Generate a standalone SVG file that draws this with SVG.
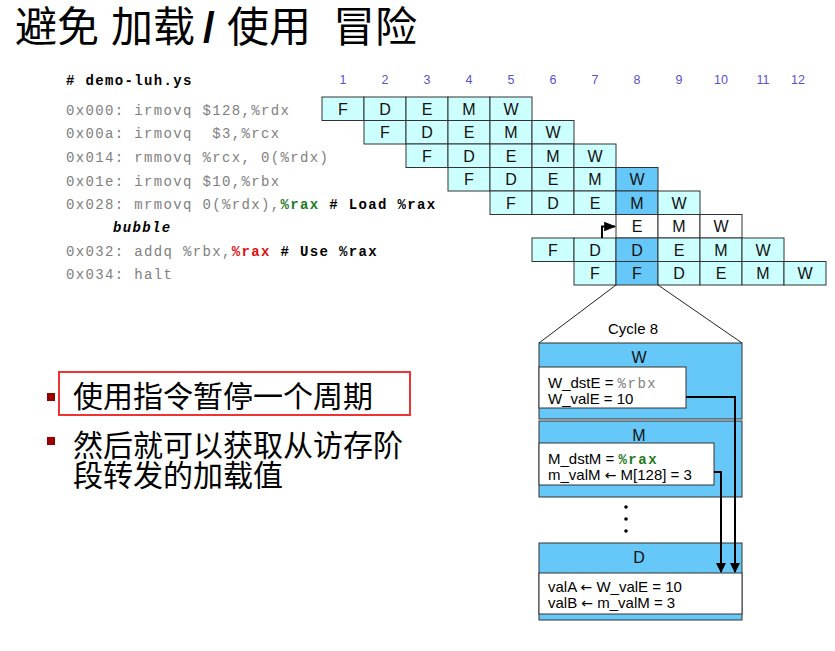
<svg xmlns="http://www.w3.org/2000/svg" width="835" height="651" viewBox="0 0 835 651">
  <style>
    .title { font-family: "Noto Sans CJK SC", "Noto Sans", sans-serif; font-size: 42px; font-weight: normal; fill: #000; }
    .slash { font-family: "Liberation Sans", Arial, sans-serif; font-weight: bold; }
    .bullet { font-family: "Noto Sans CJK SC", "Noto Sans", sans-serif; font-size: 30px; fill: #000; }
    .code { font-family: "Liberation Mono", "DejaVu Sans Mono", monospace; font-size: 14px; letter-spacing: 1.35px; fill: #808080; white-space: pre; }
    .codeb { font-weight: bold; fill: #000; }
    .num { font-family: "Liberation Sans", Arial, sans-serif; font-size: 12.5px; fill: #5a50d0; text-anchor: middle; }
    .cell { fill: #ccffff; stroke: #333; stroke-width: 1; }
    .hot { fill: #66c8f8; }
    .blank { fill: #fff; }
    .lt { font-family: "Liberation Sans", Arial, sans-serif; font-size: 16px; fill: #111; text-anchor: middle; }
    .stage { fill: #66c8f8; stroke: #333; stroke-width: 1; }
    .inner { fill: #fff; stroke: #333; stroke-width: 1; }
    .bt { font-family: "Liberation Sans", Arial, sans-serif; font-size: 15px; fill: #000; }
    .mono { font-family: "Liberation Mono", "DejaVu Sans Mono", monospace; font-size: 14px; letter-spacing: 1.5px; }
    .arr { font-family: "DejaVu Sans", sans-serif; font-size: 14px; }
    .wire { fill: none; stroke: #000; stroke-width: 2; }
    .thin { fill: none; stroke: #222; stroke-width: 1; }
  </style>
  <defs>
    <marker id="arrow" viewBox="0 0 10 10" refX="9" refY="5" markerWidth="5" markerHeight="5" orient="auto">
      <path d="M0,0 L10,5 L0,10 z" fill="#000"/>
    </marker>
    <marker id="arrowSmall" viewBox="0 0 10 10" refX="9" refY="5" markerWidth="6" markerHeight="6" orient="auto">
      <path d="M0,1 L10,5 L0,9 z" fill="#000"/>
    </marker>
  </defs>

  <rect width="835" height="651" fill="#fff"/>

  <!-- heading -->
  <text class="title" y="42"><tspan x="15">避免</tspan><tspan x="111">加载</tspan><tspan class="slash" x="203">/</tspan><tspan x="227">使用</tspan><tspan x="333">冒险</tspan></text>

  <!-- program listing -->
  <g id="listing">
    <text class="code codeb" x="66" y="85"># demo-luh.ys</text>
    <text class="code" x="66" y="115">0x000: irmovq $128,%rdx</text>
    <text class="code" x="66" y="138">0x00a: irmovq  $3,%rcx</text>
    <text class="code" x="66" y="162">0x014: rmmovq %rcx, 0(%rdx)</text>
    <text class="code" x="66" y="186">0x01e: irmovq $10,%rbx</text>
    <text class="code" x="66" y="209">0x028: mrmovq 0(%rdx),<tspan font-weight="bold" fill="#1e7a1e">%rax</tspan><tspan class="codeb"> # Load %rax</tspan></text>
    <text class="code codeb" x="113" y="232" font-style="italic">bubble</text>
    <text class="code" x="66" y="256">0x032: addq %rbx,<tspan font-weight="bold" fill="#e01010">%rax</tspan><tspan class="codeb"> # Use %rax</tspan></text>
    <text class="code" x="66" y="279">0x034: halt</text>
  </g>

  <!-- cycle numbers -->
  <g id="cycles">
    <text class="num" x="343" y="84">1</text>
    <text class="num" x="385" y="84">2</text>
    <text class="num" x="427" y="84">3</text>
    <text class="num" x="469" y="84">4</text>
    <text class="num" x="511" y="84">5</text>
    <text class="num" x="553" y="84">6</text>
    <text class="num" x="595" y="84">7</text>
    <text class="num" x="637" y="84">8</text>
    <text class="num" x="679" y="84">9</text>
    <text class="num" x="721" y="84">10</text>
    <text class="num" x="763" y="84">11</text>
    <text class="num" x="798" y="84">12</text>
  </g>

  <!-- pipeline grid -->
  <g id="row1">
    <rect class="cell" x="322" y="97" width="42" height="23.5"/>
    <rect class="cell" x="364" y="97" width="42" height="23.5"/>
    <rect class="cell" x="406" y="97" width="42" height="23.5"/>
    <rect class="cell" x="448" y="97" width="42" height="23.5"/>
    <rect class="cell" x="490" y="97" width="42" height="23.5"/>
    <text class="lt" x="343" y="114.5">F</text><text class="lt" x="385" y="114.5">D</text><text class="lt" x="427" y="114.5">E</text><text class="lt" x="469" y="114.5">M</text><text class="lt" x="511" y="114.5">W</text>
  </g>
  <g id="row2">
    <rect class="cell" x="364" y="120.5" width="42" height="23.5"/>
    <rect class="cell" x="406" y="120.5" width="42" height="23.5"/>
    <rect class="cell" x="448" y="120.5" width="42" height="23.5"/>
    <rect class="cell" x="490" y="120.5" width="42" height="23.5"/>
    <rect class="cell" x="532" y="120.5" width="42" height="23.5"/>
    <text class="lt" x="385" y="138">F</text><text class="lt" x="427" y="138">D</text><text class="lt" x="469" y="138">E</text><text class="lt" x="511" y="138">M</text><text class="lt" x="553" y="138">W</text>
  </g>
  <g id="row3">
    <rect class="cell" x="406" y="144" width="42" height="23.5"/>
    <rect class="cell" x="448" y="144" width="42" height="23.5"/>
    <rect class="cell" x="490" y="144" width="42" height="23.5"/>
    <rect class="cell" x="532" y="144" width="42" height="23.5"/>
    <rect class="cell" x="574" y="144" width="42" height="23.5"/>
    <text class="lt" x="427" y="161.5">F</text><text class="lt" x="469" y="161.5">D</text><text class="lt" x="511" y="161.5">E</text><text class="lt" x="553" y="161.5">M</text><text class="lt" x="595" y="161.5">W</text>
  </g>
  <g id="row4">
    <rect class="cell" x="448" y="167.5" width="42" height="23.5"/>
    <rect class="cell" x="490" y="167.5" width="42" height="23.5"/>
    <rect class="cell" x="532" y="167.5" width="42" height="23.5"/>
    <rect class="cell" x="574" y="167.5" width="42" height="23.5"/>
    <rect class="cell hot" x="616" y="167.5" width="42" height="23.5"/>
    <text class="lt" x="469" y="185">F</text><text class="lt" x="511" y="185">D</text><text class="lt" x="553" y="185">E</text><text class="lt" x="595" y="185">M</text><text class="lt" x="637" y="185">W</text>
  </g>
  <g id="row5">
    <rect class="cell" x="490" y="191" width="42" height="23.5"/>
    <rect class="cell" x="532" y="191" width="42" height="23.5"/>
    <rect class="cell" x="574" y="191" width="42" height="23.5"/>
    <rect class="cell hot" x="616" y="191" width="42" height="23.5"/>
    <rect class="cell" x="658" y="191" width="42" height="23.5"/>
    <text class="lt" x="511" y="208.5">F</text><text class="lt" x="553" y="208.5">D</text><text class="lt" x="595" y="208.5">E</text><text class="lt" x="637" y="208.5">M</text><text class="lt" x="679" y="208.5">W</text>
  </g>
  <g id="bubble-row">
    <rect class="cell blank" x="616" y="214.5" width="42" height="23.5"/>
    <rect class="cell blank" x="658" y="214.5" width="42" height="23.5"/>
    <rect class="cell blank" x="700" y="214.5" width="42" height="23.5"/>
    <text class="lt" x="637" y="232">E</text><text class="lt" x="679" y="232">M</text><text class="lt" x="721" y="232">W</text>
  </g>
  <g id="row6">
    <rect class="cell" x="532" y="238" width="42" height="23.5"/>
    <rect class="cell" x="574" y="238" width="42" height="23.5"/>
    <rect class="cell hot" x="616" y="238" width="42" height="23.5"/>
    <rect class="cell" x="658" y="238" width="42" height="23.5"/>
    <rect class="cell" x="700" y="238" width="42" height="23.5"/>
    <rect class="cell" x="742" y="238" width="42" height="23.5"/>
    <text class="lt" x="553" y="255.5">F</text><text class="lt" x="595" y="255.5">D</text><text class="lt" x="637" y="255.5">D</text><text class="lt" x="679" y="255.5">E</text><text class="lt" x="721" y="255.5">M</text><text class="lt" x="763" y="255.5">W</text>
  </g>
  <g id="row7">
    <rect class="cell" x="574" y="261.5" width="42" height="23.5"/>
    <rect class="cell hot" x="616" y="261.5" width="42" height="23.5"/>
    <rect class="cell" x="658" y="261.5" width="42" height="23.5"/>
    <rect class="cell" x="700" y="261.5" width="42" height="23.5"/>
    <rect class="cell" x="742" y="261.5" width="42" height="23.5"/>
    <rect class="cell" x="784" y="261.5" width="42" height="23.5"/>
    <text class="lt" x="595" y="279">F</text><text class="lt" x="637" y="279">F</text><text class="lt" x="679" y="279">D</text><text class="lt" x="721" y="279">E</text><text class="lt" x="763" y="279">M</text><text class="lt" x="805" y="279">W</text>
  </g>

  <!-- cycle 8 detail -->
  <g id="cycle8">
    <text class="bt" x="633" y="334" text-anchor="middle" font-size="16">Cycle 8</text>
  </g>
  <g id="stage-W">
    <rect class="stage" x="539" y="343" width="203" height="76"/>
    <text class="lt" x="639" y="363">W</text>
    <rect class="inner" x="539" y="367" width="147" height="41"/>
    <text class="bt" x="548" y="388">W_dstE = <tspan class="mono" fill="#808080">%rbx</tspan></text>
    <text class="bt" x="548" y="404">W_valE = 10</text>
  </g>
  <g id="stage-M">
    <rect class="stage" x="539" y="421" width="203" height="76"/>
    <text class="lt" x="639" y="441">M</text>
    <rect class="inner" x="539" y="443" width="175" height="42"/>
    <text class="bt" x="548" y="464">M_dstM = <tspan class="mono" font-weight="bold" fill="#1e7a1e">%rax</tspan></text>
    <text class="bt" x="548" y="480">m_valM <tspan class="arr">←</tspan> M[128] = 3</text>
  </g>
  <g id="ellipsis">
    <circle cx="626" cy="507" r="1.8" fill="#000"/>
    <circle cx="626" cy="519" r="1.8" fill="#000"/>
    <circle cx="626" cy="531" r="1.8" fill="#000"/>
  </g>
  <g id="stage-D">
    <rect class="stage" x="539" y="543" width="203" height="77"/>
    <text class="lt" x="639" y="563">D</text>
    <rect class="inner" x="539" y="573" width="203" height="41"/>
    <text class="bt" x="548" y="592">valA <tspan class="arr">←</tspan> W_valE = 10</text>
    <text class="bt" x="548" y="608">valB <tspan class="arr">←</tspan> m_valM = 3</text>
  </g>

  <!-- connectors -->
  <g id="connectors">
    <path class="thin" d="M616,285 L539,343"/>
    <path class="thin" d="M658,285 L742,343"/>
    <path class="wire" stroke-width="1.5" d="M602,238 L602,226.5 L615,226.5" marker-end="url(#arrowSmall)"/>
    <path class="wire" d="M686,397 L735,397 L735,572" marker-end="url(#arrow)"/>
    <path class="wire" d="M714,472 L721,472 L721,572" marker-end="url(#arrow)"/>
  </g>

  <!-- bullet points -->
  <g id="bullets">
    <rect x="47" y="393" width="8" height="8" fill="#990000"/>
    <rect x="59" y="372" width="351" height="43" fill="none" stroke="#ee3333" stroke-width="2"/>
    <text class="bullet" x="73" y="407">使用指令暂停一个周期</text>
    <rect x="47" y="437" width="8" height="8" fill="#990000"/>
    <text class="bullet" x="73" y="456">然后就可以获取从访存阶</text>
    <text class="bullet" x="73" y="486">段转发的加载值</text>
  </g>
</svg>
